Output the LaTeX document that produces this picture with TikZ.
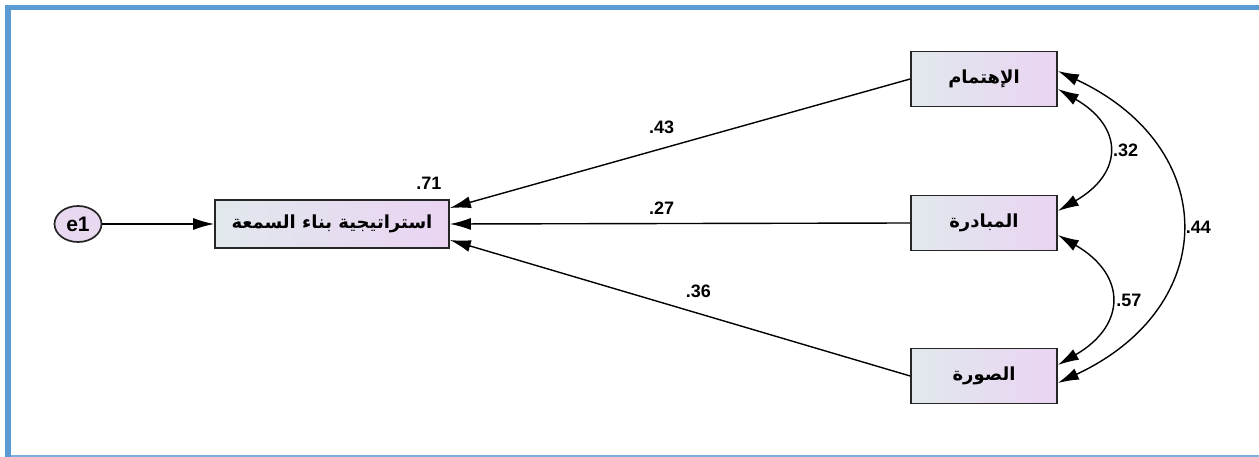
\documentclass[tikz,border=0pt]{standalone}
\usepackage{fontspec}
\setmainfont{Liberation Sans}
\newfontfamily\arabicfont[Script=Arabic]{DejaVu Sans}
\TeXXeTstate=1
\usetikzlibrary{arrows.meta,positioning,shapes.geometric}
\definecolor{frameblue}{HTML}{5B9BD5}
\definecolor{boxleft}{HTML}{E1E8EC}
\definecolor{boxright}{HTML}{EAD4F3}
\definecolor{errfill}{HTML}{E8D8F0}
\tikzset{%
  >={Latex[width=12pt,length=21pt]},
  % Specifications for style of nodes:
     varbase/.style = {rectangle, draw=black!85, line width=1.7pt,
                       left color=boxleft, right color=boxright,
                       text centered, font=\arabicfont\bfseries\fontsize{18}{21}\selectfont},
    observed/.style = {varbase, minimum width=146pt, minimum height=55pt},
     outcome/.style = {varbase, minimum width=234pt, minimum height=48pt},
    errorvar/.style = {ellipse, draw=black!85, line width=1.7pt, fill=errfill,
                       minimum width=47pt, minimum height=36pt, inner sep=0pt,
                       font=\bfseries\fontsize{21}{24}\selectfont},
       estim/.style = {inner sep=0pt, font=\bfseries\fontsize{18}{20}\selectfont},
  % Specifications for style of paths:
     regpath/.style = {->, line width=1.4pt},
     covpath/.style = {<->, line width=1.4pt}
}

\begin{document}
\begin{tikzpicture}[x=1pt, y=-1pt]
  \useasboundingbox (0,0) rectangle (1259,457);
  \fill[frameblue] (5,5) rectangle (1259,10);
  \fill[frameblue] (5,5) rectangle (11,457);
  \fill[frameblue!80] (11,455) rectangle (1259,457);

  \node (strategy)  [outcome] at (332,224) {\beginR استراتيجية بناء السمعة\endR};
  \node (e1)        [errorvar] at (78,224) {e1};
  \node (interest)  [observed] at (984,79) {\beginR الإهتمام\endR};
  \node (initiative)[observed, below of=interest, node distance=144pt] {\beginR المبادرة\endR};
  \node (image)     [observed, below of=initiative, node distance=153pt] {\beginR الصورة\endR};
  \node (r2)        [estim] at ([xshift=-21pt, yshift=16pt]strategy.north east) {.71};

    \draw[regpath]  (e1) -- (strategy);
    \draw[regpath]  (interest.west) -- node[estim, pos=0.54, yshift=21pt] (w1) {.43} ([yshift=16pt]strategy.east);
    \draw[regpath]  (initiative.west) -- node[estim, pos=0.54, yshift=15pt] (w2) {.27} (strategy.east);
    \draw[regpath]  (image.west) -- node[estim, pos=0.46, yshift=22pt] (w3) {.36} ([yshift=-16pt]strategy.east);
    \draw[covpath]  ([yshift=-10pt]interest.east) to[out=-30, in=30, looseness=1.6]
                    node[estim, right=5pt] (c1) {.32} ([yshift=12pt]initiative.east);
    \draw[covpath]  ([yshift=-12pt]initiative.east) to[out=-30, in=30, looseness=1.57]
                    node[estim, right=6pt] (c2) {.57} ([yshift=11pt]image.east);
    \draw[covpath]  ([yshift=8pt]interest.east) to[out=-25, in=25, looseness=1.48]
                    node[estim, right=5pt] (c3) {.44} ([yshift=-7pt]image.east);
\end{tikzpicture}
\end{document}
